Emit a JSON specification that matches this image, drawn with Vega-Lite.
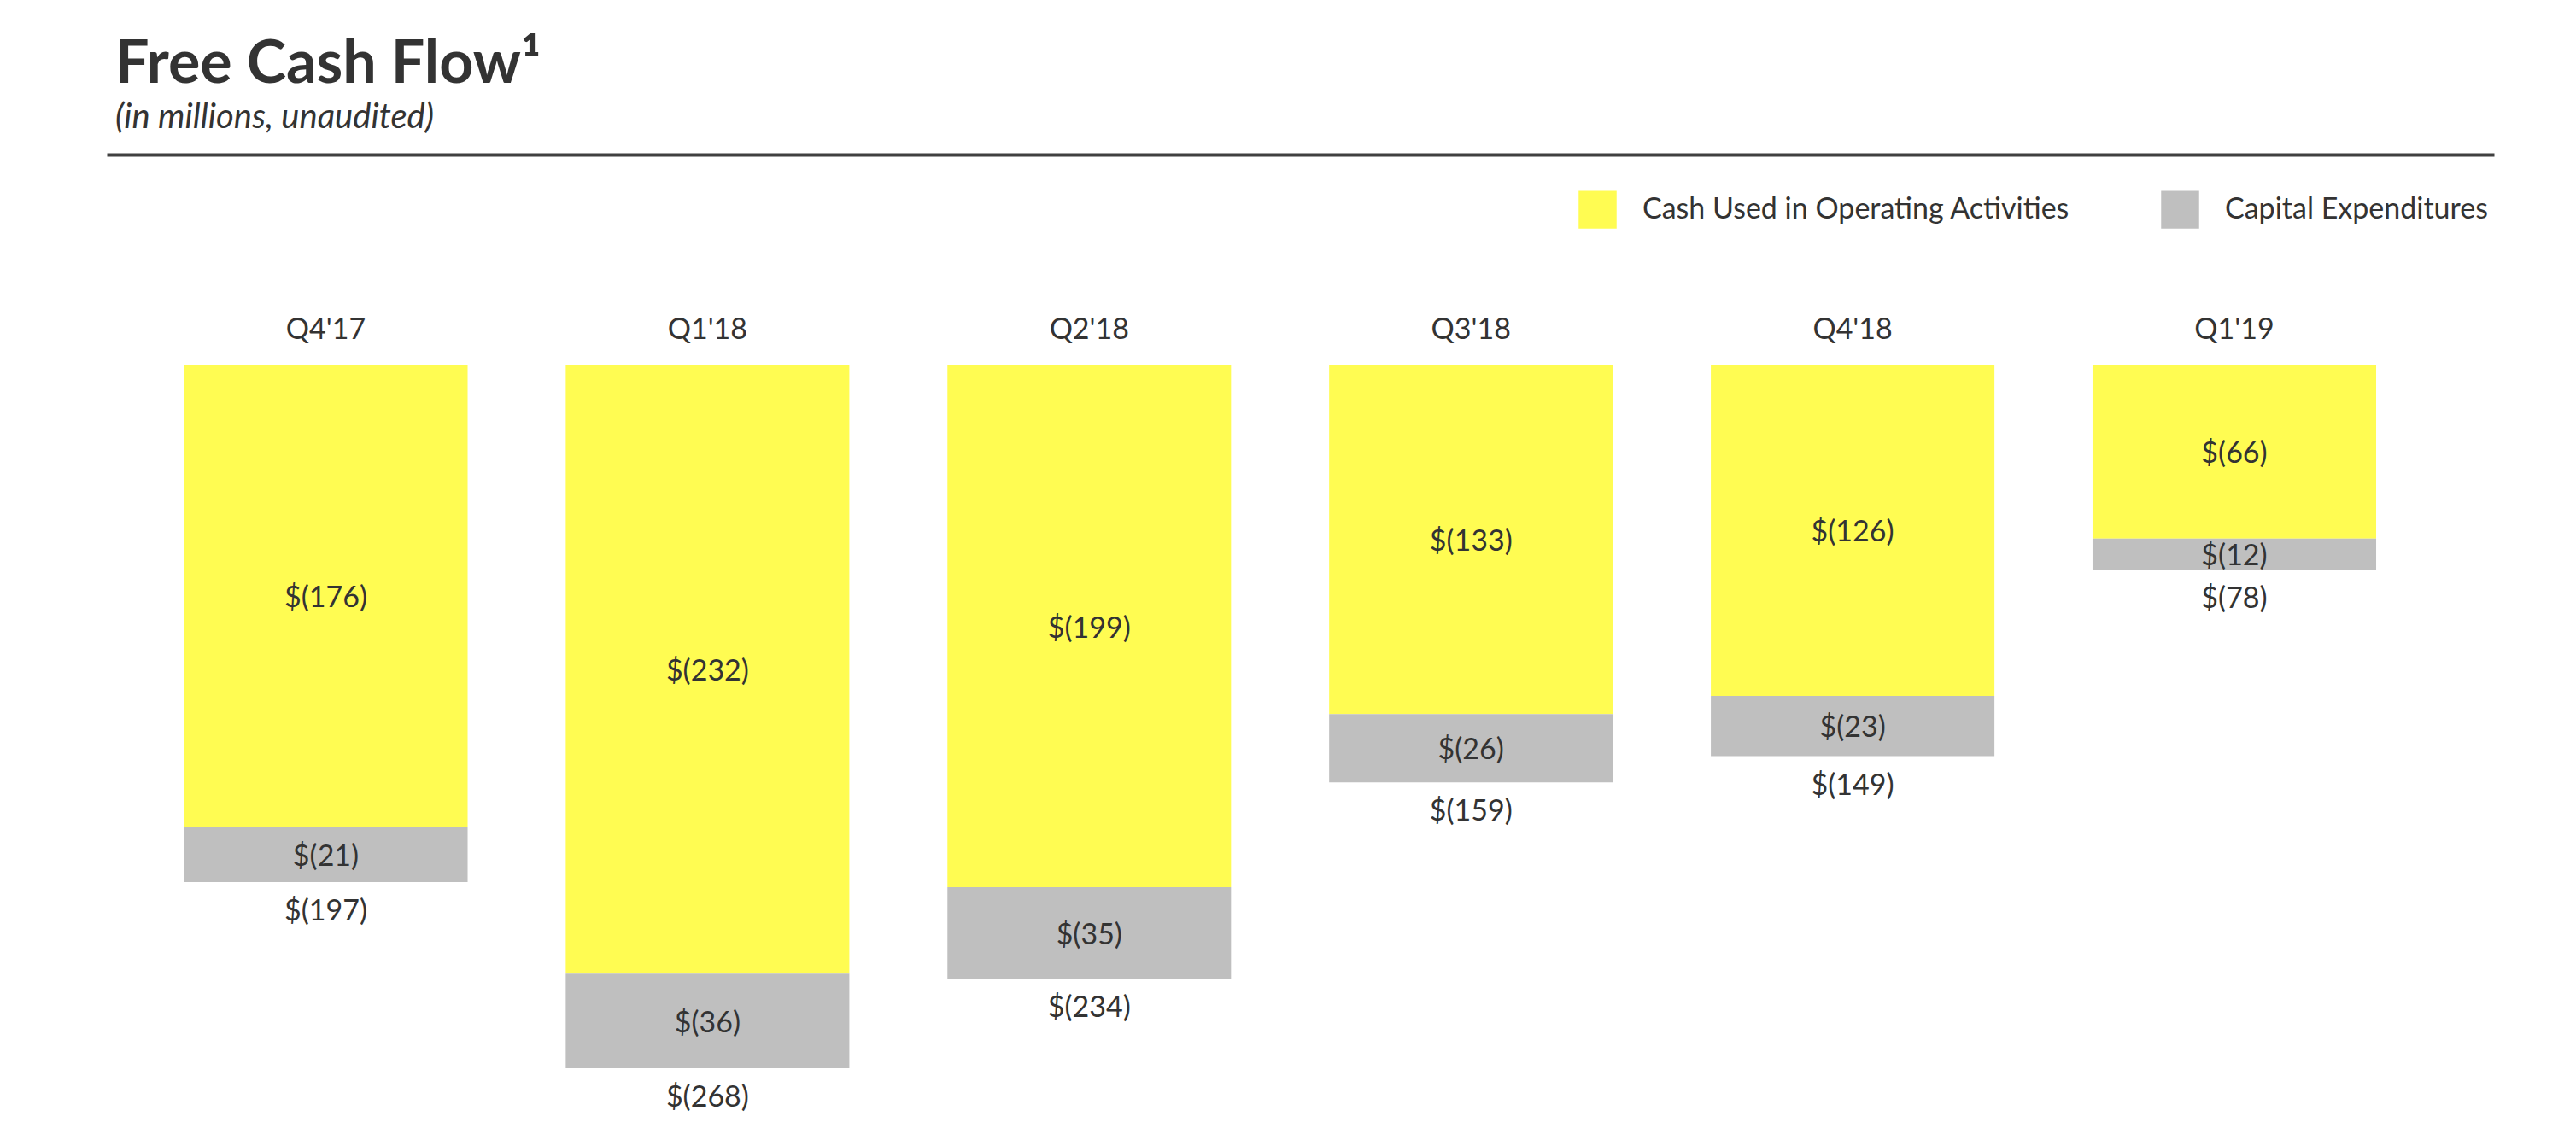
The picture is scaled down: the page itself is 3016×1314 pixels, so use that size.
{
  "$schema": "https://vega.github.io/schema/vega-lite/v6.json",
  "width": 2795,
  "height": 880,
  "autosize": {"type": "none"},
  "padding": {"left": 125, "top": 428, "right": 96, "bottom": 6},
  "background": "white",
  "config": {"view": {"stroke": null}, "font": "Lato"},
  "title": {
    "text": "Free Cash Flow¹",
    "subtitle": "(in millions, unaudited)",
    "anchor": "start",
    "frame": "group",
    "orient": "top",
    "dx": 10,
    "offset": 22,
    "font": "Lato",
    "fontSize": 70,
    "fontWeight": "bold",
    "color": "#333333",
    "subtitleFont": "Lato",
    "subtitleFontSize": 40,
    "subtitleFontStyle": "italic",
    "subtitleColor": "#333333",
    "subtitlePadding": 6
  },
  "datasets": {
    "flows": [
      {"quarter": "Q4'17", "series": "Cash Used in Operating Activities", "order": 1, "value": 176},
      {"quarter": "Q4'17", "series": "Capital Expenditures", "order": 2, "value": 21},
      {"quarter": "Q1'18", "series": "Cash Used in Operating Activities", "order": 1, "value": 232},
      {"quarter": "Q1'18", "series": "Capital Expenditures", "order": 2, "value": 36},
      {"quarter": "Q2'18", "series": "Cash Used in Operating Activities", "order": 1, "value": 199},
      {"quarter": "Q2'18", "series": "Capital Expenditures", "order": 2, "value": 35},
      {"quarter": "Q3'18", "series": "Cash Used in Operating Activities", "order": 1, "value": 133},
      {"quarter": "Q3'18", "series": "Capital Expenditures", "order": 2, "value": 26},
      {"quarter": "Q4'18", "series": "Cash Used in Operating Activities", "order": 1, "value": 126},
      {"quarter": "Q4'18", "series": "Capital Expenditures", "order": 2, "value": 23},
      {"quarter": "Q1'19", "series": "Cash Used in Operating Activities", "order": 1, "value": 66},
      {"quarter": "Q1'19", "series": "Capital Expenditures", "order": 2, "value": 12}
    ],
    "totals": [
      {"quarter": "Q4'17", "total": 197},
      {"quarter": "Q1'18", "total": 268},
      {"quarter": "Q2'18", "total": 234},
      {"quarter": "Q3'18", "total": 159},
      {"quarter": "Q4'18", "total": 149},
      {"quarter": "Q1'19", "total": 78}
    ]
  },
  "layer": [
    {
      "data": {"name": "flows"},
      "transform": [
        {"stack": "value", "groupby": ["quarter"], "sort": [{"field": "order", "order": "ascending"}], "as": ["v0", "v1"]}
      ],
      "mark": {"type": "bar"},
      "encoding": {
        "x": {
          "field": "quarter",
          "type": "nominal",
          "scale": {
            "domain": ["Q4'17", "Q1'18", "Q2'18", "Q3'18", "Q4'18", "Q1'19"],
            "paddingInner": 0.257,
            "paddingOuter": 0.2556,
            "align": 0.396
          },
          "axis": {
            "orient": "top",
            "offset": 247,
            "labels": false,
            "ticks": false,
            "grid": false,
            "title": null,
            "domainColor": "#404040",
            "domainWidth": 4
          }
        },
        "y": {
          "field": "v0",
          "type": "quantitative",
          "scale": {"domain": [0, 286.6], "reverse": true, "nice": false},
          "axis": null
        },
        "y2": {"field": "v1"},
        "color": {
          "field": "series",
          "type": "nominal",
          "scale": {
            "domain": ["Cash Used in Operating Activities", "Capital Expenditures"],
            "range": ["#FFFC52", "#BFBFBF"]
          },
          "legend": {
            "orient": "none",
            "legendX": 1723,
            "legendY": -205,
            "direction": "horizontal",
            "title": null,
            "symbolType": "square",
            "symbolSize": 1980,
            "symbolStrokeWidth": 0,
            "symbolOpacity": 1,
            "labelFont": "Lato",
            "labelFontSize": 34,
            "labelColor": "#333333",
            "labelOffset": 30,
            "labelLimit": 1000,
            "columnPadding": 106,
            "padding": 0,
            "offset": 0
          }
        }
      }
    },
    {
      "data": {"name": "flows"},
      "transform": [
        {"stack": "value", "groupby": ["quarter"], "sort": [{"field": "order", "order": "ascending"}], "as": ["v0", "v1"]},
        {"calculate": "(datum.v0 + datum.v1) / 2", "as": "mid"},
        {"calculate": "'$(' + datum.value + ')'", "as": "label"}
      ],
      "mark": {"type": "text", "font": "Lato", "fontSize": 34, "color": "#333333", "baseline": "middle", "align": "center", "dy": 3},
      "encoding": {
        "x": {"field": "quarter", "type": "nominal"},
        "y": {"field": "mid", "type": "quantitative"},
        "text": {"field": "label"}
      }
    },
    {
      "data": {"name": "totals"},
      "transform": [
        {"calculate": "'$(' + datum.total + ')'", "as": "label"}
      ],
      "mark": {"type": "text", "font": "Lato", "fontSize": 34, "color": "#333333", "baseline": "middle", "align": "center", "dy": 35},
      "encoding": {
        "x": {"field": "quarter", "type": "nominal"},
        "y": {"field": "total", "type": "quantitative"},
        "text": {"field": "label"}
      }
    },
    {
      "data": {"name": "totals"},
      "mark": {"type": "text", "font": "Lato", "fontSize": 34, "color": "#333333", "baseline": "middle", "align": "center", "dy": -41},
      "encoding": {
        "x": {"field": "quarter", "type": "nominal"},
        "y": {"datum": 0, "type": "quantitative"},
        "text": {"field": "quarter"}
      }
    }
  ]
}
